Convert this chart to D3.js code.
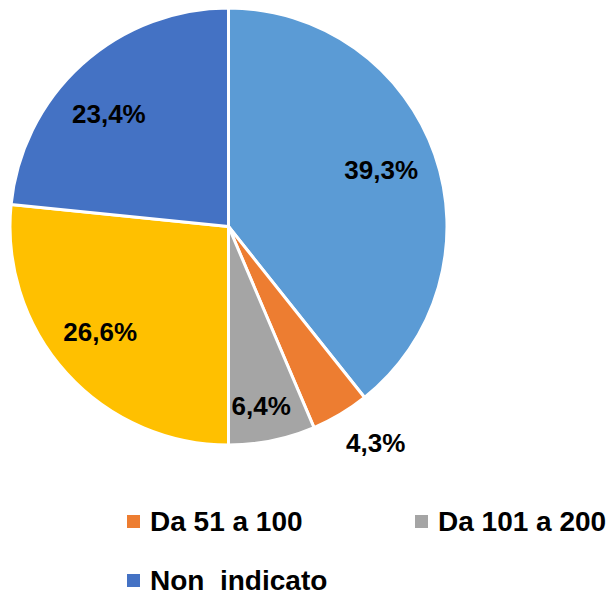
<!DOCTYPE html>
<html>
<head>
<meta charset="utf-8">
<script src="https://cdn.jsdelivr.net/npm/d3@7"></script>
<style>
  body { margin: 0; background: #fff; }
  svg { display: block; }
  text { font-family: "Liberation Sans", Arial, sans-serif; font-weight: bold; }
</style>
</head>
<body>
<svg width="611" height="595"></svg>
<script>
// legend names (first and fourth fall off the left edge of the picture)
var categories = ['Fino a 50', 'Da 51 a 100', 'Da 101 a 200', 'Oltre 200', 'Non  indicato'];
var values = [39.3, 4.3, 6.4, 26.6, 23.4];
var labels = ['39,3%', '4,3%', '6,4%', '26,6%', '23,4%'];
var colors = ['#5B9BD5', '#ED7D31', '#A5A5A5', '#FFC000', '#4472C4'];

// small pixel nudges for the data labels (Excel best-fit placement)
var labelNudge = [[-3, -2], [13, -9], [-4, 0], [-6, -5], [-9, 10]];

var cx = 228.5, cy = 226.5, radius = 218.5;

var svg = d3.select('svg');

var data = values.map(function(v, i) {
  return { name: categories[i], value: v, label: labels[i], color: colors[i], nudge: labelNudge[i] };
});

var pie = d3.pie()
    .sort(null)
    .value(function(d) { return d.value; });

var arc = d3.arc()
    .innerRadius(0)
    .outerRadius(radius);

var arcs = pie(data);

var g = svg.append('g')
    .attr('transform', 'translate(' + cx + ',' + cy + ')');

g.selectAll('path')
    .data(arcs)
    .enter().append('path')
    .attr('d', arc)
    .attr('fill', function(d) { return d.data.color; })
    .attr('stroke', '#fff')
    .attr('stroke-width', 3)
    .attr('stroke-linejoin', 'round');

// label radius: small slices get pushed outward
function labelRadius(d) {
  if (d.data.value < 5) return radius * 1.2;
  if (d.data.value < 10) return radius * 0.84;
  return radius * 0.755;
}

g.selectAll('text.lbl')
    .data(arcs)
    .enter().append('text')
    .attr('class', 'lbl')
    .attr('x', function(d) {
      var a = (d.startAngle + d.endAngle) / 2;
      return Math.sin(a) * labelRadius(d) + d.data.nudge[0];
    })
    .attr('y', function(d) {
      var a = (d.startAngle + d.endAngle) / 2;
      return -Math.cos(a) * labelRadius(d) + d.data.nudge[1];
    })
    .attr('text-anchor', 'middle')
    .attr('dominant-baseline', 'central')
    .attr('font-size', 26)
    .attr('fill', '#000')
    .text(function(d) { return d.data.label; });

// legend: 3 columns, grid starts left of the visible area
var legX0 = -161, colW = 288, legY0 = 521, rowH = 59;

var leg = svg.append('g');
var items = leg.selectAll('g')
    .data(data.map(function(d, i) {
      return { d: d, x: legX0 + (i % 3) * colW, y: legY0 + Math.floor(i / 3) * rowH };
    }).filter(function(e) { return e.x >= 0; }))
    .enter().append('g')
    .attr('transform', function(e) { return 'translate(' + e.x + ',' + e.y + ')'; });

items.append('rect')
    .attr('x', 0)
    .attr('y', -6)
    .attr('width', 13)
    .attr('height', 13)
    .attr('fill', function(e) { return e.d.color; });

items.append('text')
    .attr('x', 23)
    .attr('y', 0)
    .attr('dominant-baseline', 'central')
    .attr('font-size', 28)
    .style('white-space', 'pre')
    .attr('fill', '#000')
    .text(function(e) { return e.d.name; });
</script>
</body>
</html>
